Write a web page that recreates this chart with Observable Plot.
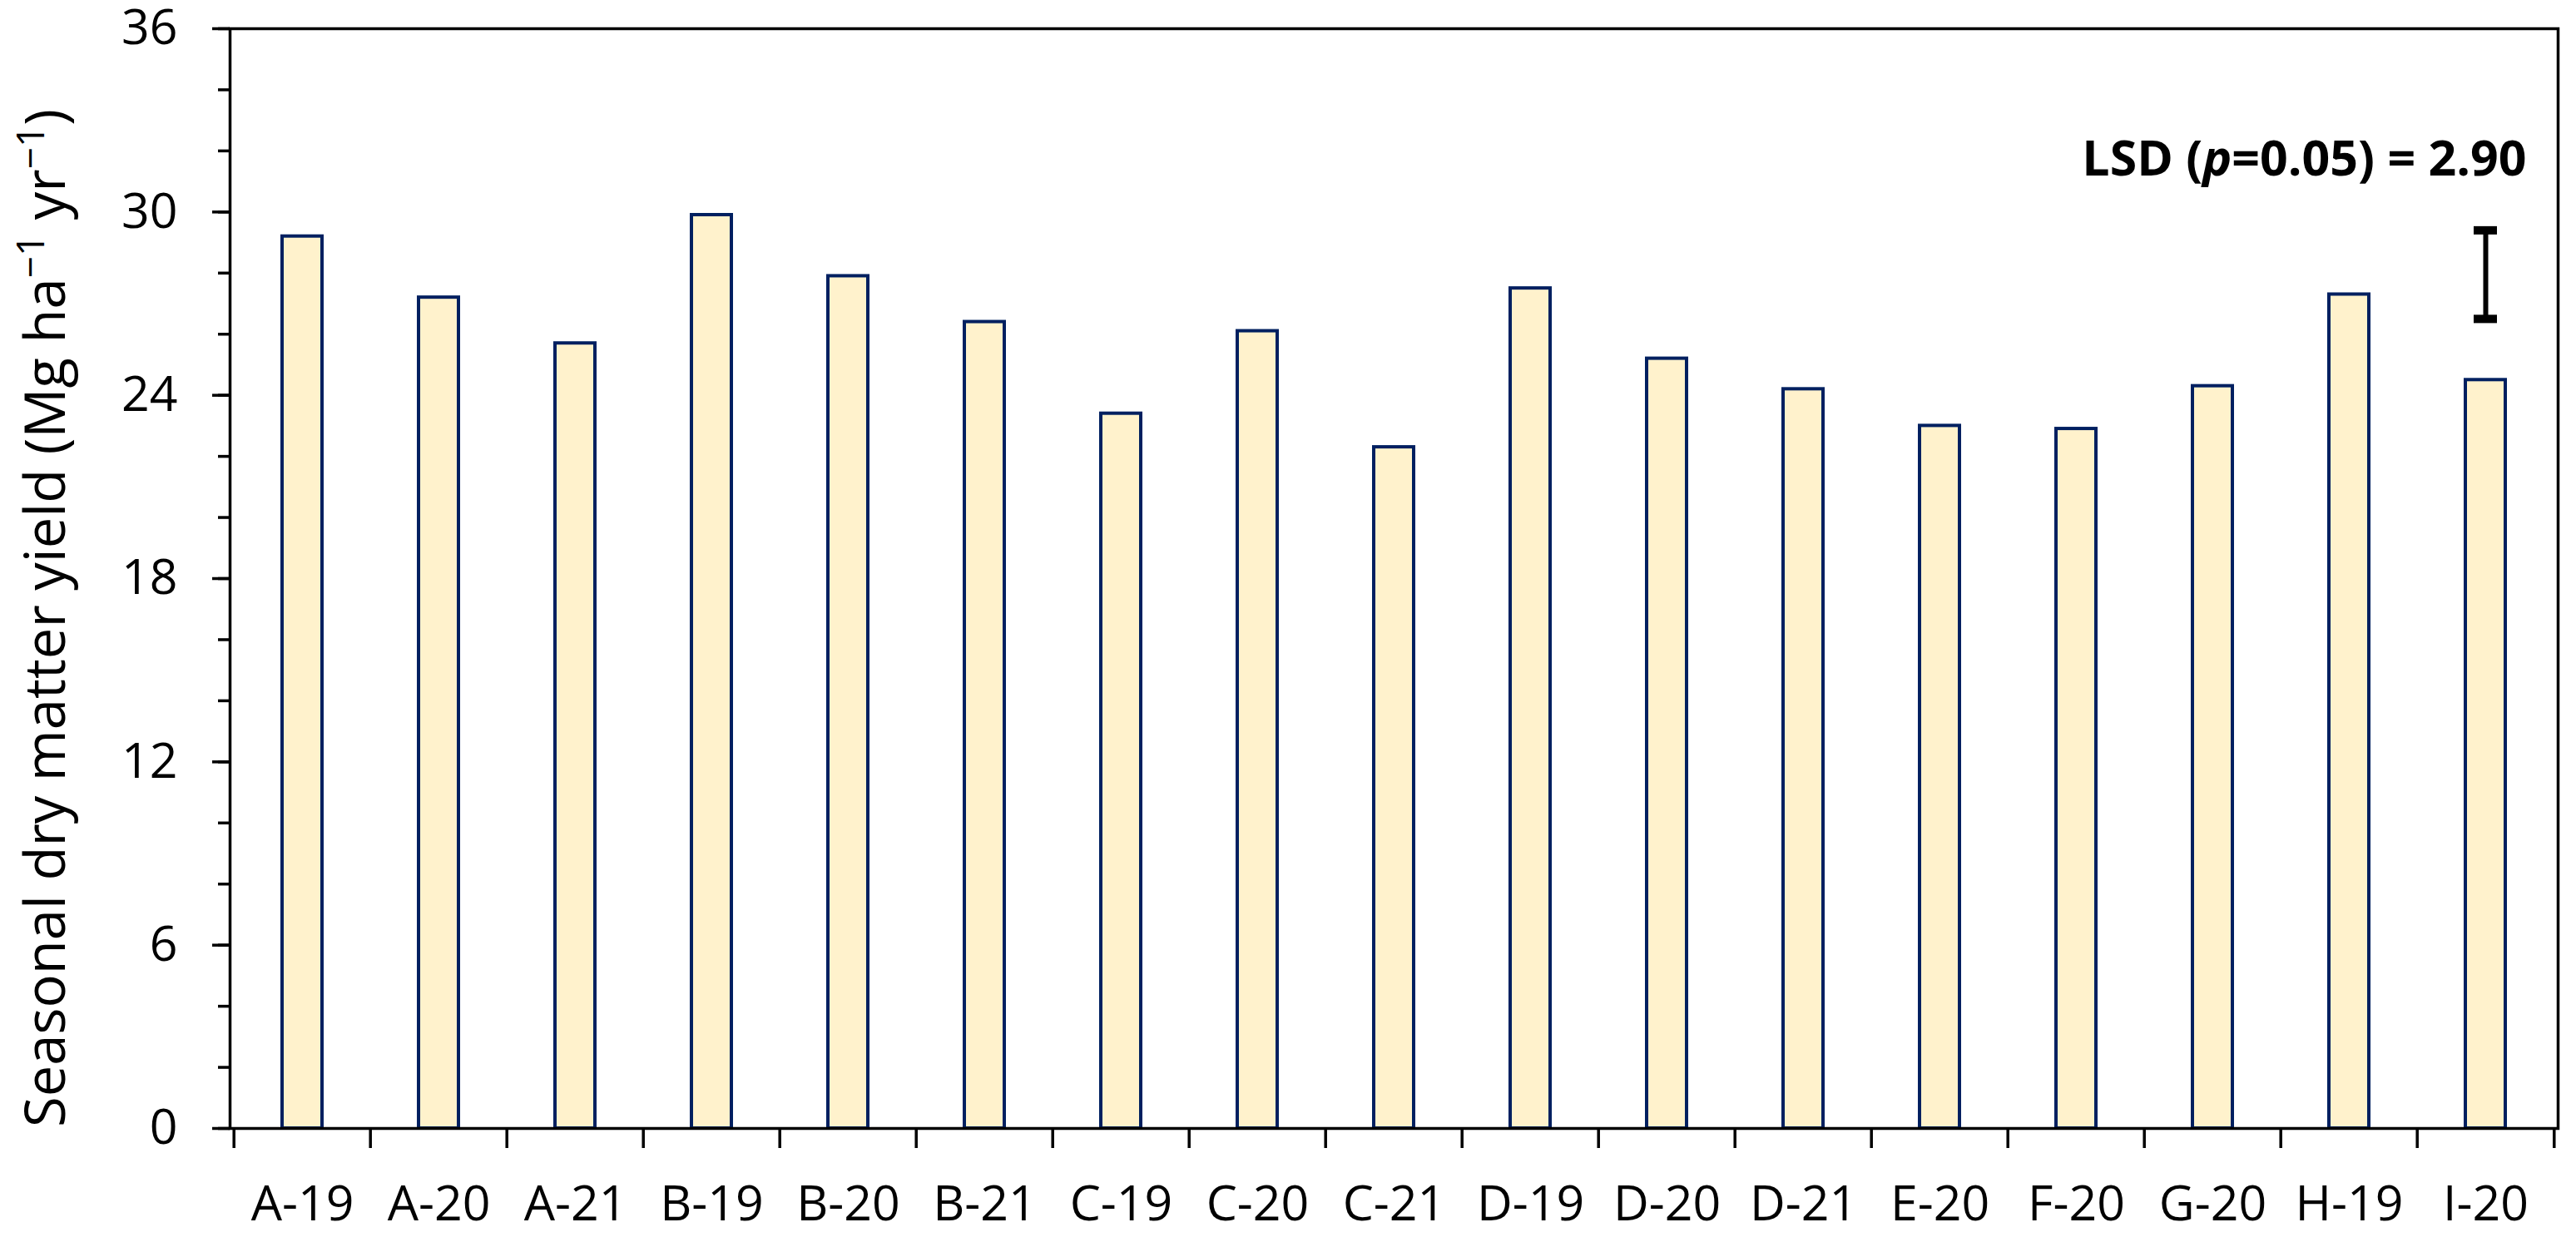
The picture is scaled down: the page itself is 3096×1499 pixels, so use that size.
<!DOCTYPE html>
<html>
<head>
<meta charset="utf-8">
<script src="https://cdn.jsdelivr.net/npm/d3@7"></script>
<script src="https://cdn.jsdelivr.net/npm/@observablehq/plot@0.6"></script>
<style>
  html, body { margin: 0; padding: 0; background: #ffffff; }
  #chart svg { display: block; }
</style>
</head>
<body>
<div id="chart"></div>
<script>
// ---- data ----
const categories = ["A-19","A-20","A-21","B-19","B-20","B-21","C-19","C-20","C-21","D-19","D-20","D-21","E-20","F-20","G-20","H-19","I-20"];
const yields = [29.2, 27.2, 25.7, 29.9, 27.9, 26.4, 23.4, 26.1, 22.3, 27.5, 25.2, 24.2, 23.0, 22.9, 24.3, 27.3, 24.5];
const yMajorTicks = [0, 6, 12, 18, 24, 30, 36];
const yMinorTicks = [0, 2, 4, 6, 8, 10, 12, 14, 16, 18, 20, 22, 24, 26, 28, 30, 32, 34, 36];
const lsdCategory = "I-20";
const lsdLow = 26.5;
const lsdHigh = 29.4;
const lsdValue = "2.90";
const lsdTextY = 31.7;
const lsdLabel = "LSD (p=0.05) = " + lsdValue;
const yLabelText = "Seasonal dry matter yield (Mg ha";

const data = categories.map((c, i) => ({cat: c, value: yields[i]}));

const W = 3096, H = 1499;
const mL = 276, mR = 22, mT = 34, mB = 143;
const step = (W - mL - mR) / categories.length;
const AX = 3.5;

const chart = Plot.plot({
  width: W,
  height: H,
  marginLeft: mL,
  marginRight: mR,
  marginTop: mT,
  marginBottom: mB,
  style: {fontFamily: "'Open Sans', sans-serif", fontSize: "59px", background: "#ffffff", color: "#000000", overflow: "visible"},
  x: {domain: categories, paddingInner: 0.71, paddingOuter: 0.355, label: null},
  y: {domain: [0, 36], label: null},
  marks: [
    Plot.barY(data, {x: "cat", y: "value", fill: "#FFF2CC", stroke: "#002060", strokeWidth: 4}),
    Plot.frame({stroke: "#000000", strokeWidth: AX}),
    // y major ticks + labels
    Plot.axisY({ticks: yMajorTicks, tickSize: 21, tickPadding: 42, strokeWidth: AX, label: null, fontSize: 59}),
    // y minor ticks
    Plot.axisY({ticks: yMinorTicks, tickSize: 14, strokeWidth: AX, fill: "none", label: null}),
    // x labels (no tick)
    Plot.axisX({tickSize: 0, tickPadding: 69, label: null, fontSize: 59}),
    // x boundary ticks
    Plot.axisX({ticks: categories, tickSize: 24, dx: -step / 2, strokeWidth: AX, fill: "none", label: null}),
    Plot.axisX({ticks: [categories[categories.length - 1]], tickSize: 24, dx: step / 2, strokeWidth: AX, fill: "none", label: null}),
    // LSD error bar
    Plot.ruleX([lsdCategory], {x: d => d, y1: lsdLow, y2: lsdHigh, stroke: "#000000", strokeWidth: 6}),
    Plot.tickY([lsdLow, lsdHigh], {x: () => lsdCategory, y: d => d, stroke: "#000000", strokeWidth: 10, insetLeft: 10, insetRight: 10}),
    Plot.text([lsdLabel], {x: () => lsdCategory, y: () => lsdTextY, text: d => d, textAnchor: "end", lineAnchor: "middle", dx: 49, fontWeight: "bold", fontSize: 59, fill: "#000000"})
  ]
});

document.getElementById("chart").appendChild(chart);

// LSD annotation with italic p
for (const t of chart.querySelectorAll("text")) {
  if (t.textContent === lsdLabel) {
    t.textContent = "";
    const parts = [["LSD (", null], ["p", "italic"], ["=0.05) = " + lsdValue, null]];
    for (const [s, style] of parts) {
      const ts = document.createElementNS("http://www.w3.org/2000/svg", "tspan");
      if (style) ts.setAttribute("font-style", style);
      ts.textContent = s;
      t.appendChild(ts);
    }
  }
}

// Y-axis title with superscripts
const svg = d3.select(chart);
const yl = svg.append("text")
  .attr("transform", `translate(78, ${743}) rotate(-90)`)
  .attr("text-anchor", "middle")
  .attr("font-family", "'Open Sans', sans-serif")
  .attr("font-size", 67)
  .attr("fill", "#000000");
yl.append("tspan").text(yLabelText);
yl.append("tspan").attr("font-size", 46).attr("dy", -25).text("\u22121");
yl.append("tspan").attr("dy", 25).text(" yr");
yl.append("tspan").attr("font-size", 46).attr("dy", -25).text("\u22121");
yl.append("tspan").attr("dy", 25).text(")");
</script>
</body>
</html>
